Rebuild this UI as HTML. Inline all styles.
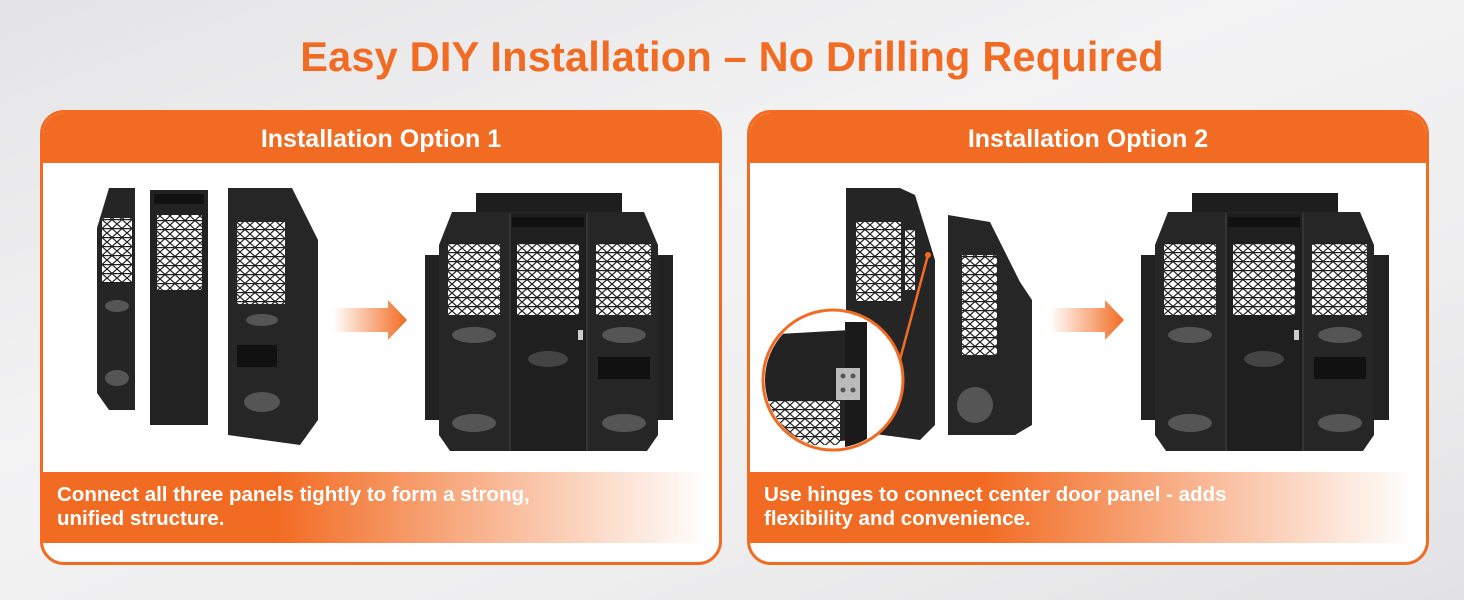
<!DOCTYPE html>
<html><head><meta charset="utf-8"><style>
body{margin:0;width:1464px;height:600px;overflow:hidden;background:linear-gradient(160deg,#e4e4e6 0%,#f3f3f4 40%,#eeeeef 70%,#e2e2e4 100%);font-family:"Liberation Sans",sans-serif;position:relative}
.title{position:absolute;top:33px;left:0;width:1464px;text-align:center;color:#f26b22;font-weight:bold;font-size:41.5px;letter-spacing:0.2px}
.card{position:absolute;top:110px;width:676px;height:449px;border:3px solid #f26b22;border-radius:24px;background:#fff;overflow:hidden}
.hdr{height:50px;background:#f26b22;color:#fff;font-weight:bold;font-size:25px;text-align:center;line-height:52px}
.cap{position:absolute;left:0;top:359px;height:71px;width:665px;background:linear-gradient(90deg,#f26b22 0%,#f26b22 35%,rgba(242,107,34,0.45) 70%,rgba(242,107,34,0) 100%);color:#fff;font-weight:bold;font-size:20.5px;line-height:24px;padding:11px 0 0 14px;box-sizing:border-box;white-space:nowrap}
svg{position:absolute;left:0;top:0}
</style></head><body>
<div class="title">Easy DIY Installation – No Drilling Required</div>
<div class="card" style="left:40px"><div class="hdr">Installation Option 1</div>
<div class="cap">Connect all three panels tightly to form a strong,<br>unified structure.</div></div>
<div class="card" style="left:747px"><div class="hdr">Installation Option 2</div>
<div class="cap">Use hinges to connect center door panel - adds<br>flexibility and convenience.</div></div>
<svg width="1464" height="600" viewBox="0 0 1464 600">
<defs>
<pattern id="m" width="10" height="9" patternUnits="userSpaceOnUse">
<rect width="10" height="9" fill="#fff"/><path d="M0 0L5 4.5L10 0M0 9L5 4.5L10 9" stroke="#1d1d1d" stroke-width="1.2" fill="none"/><rect y="4" width="10" height="1.2" fill="#1d1d1d"/></pattern>
<linearGradient id="ar" x1="0" x2="1"><stop offset="0" stop-color="#f26b22" stop-opacity="0"/><stop offset="1" stop-color="#f26b22"/></linearGradient>
<g id="asm">
<rect x="54" y="8" width="146" height="22" fill="#1e1e1e"/>
<rect x="3" y="70" width="16" height="165" fill="#222"/>
<rect x="234" y="70" width="17" height="165" fill="#222"/>
<polygon points="30,27 222,27 236,60 236,250 225,266 28,266 17,250 17,60" fill="#262626"/>
<rect x="88" y="28" width="77" height="238" fill="#1f1f1f"/>
<rect x="90" y="32" width="72" height="10" fill="#111"/>
<line x1="88" y1="28" x2="88" y2="266" stroke="#444"/><line x1="165" y1="28" x2="165" y2="266" stroke="#444"/>
<rect x="26" y="58" width="52" height="72" fill="url(#m)"/>
<rect x="95" y="58" width="62" height="72" fill="url(#m)"/>
<rect x="174" y="58" width="55" height="72" fill="url(#m)"/>
<ellipse cx="52" cy="150" rx="22" ry="8" fill="#555"/><ellipse cx="202" cy="150" rx="22" ry="8" fill="#555"/>
<ellipse cx="52" cy="238" rx="22" ry="9" fill="#555"/><ellipse cx="202" cy="238" rx="22" ry="9" fill="#555"/>
<ellipse cx="126" cy="174" rx="20" ry="8" fill="#444"/>
<rect x="176" y="172" width="52" height="22" fill="#111"/>
<rect x="156" y="145" width="5" height="10" fill="#ccc"/>
</g>
<g id="pnl1"><polygon points="12,0 38,0 38,222 12,222 0,205 0,40" fill="#252525"/><rect x="5" y="30" width="30" height="65" fill="url(#m)"/><ellipse cx="20" cy="118" rx="12" ry="6" fill="#555"/><ellipse cx="20" cy="190" rx="12" ry="8" fill="#555"/></g>
</defs>
<use href="#pnl1" x="97" y="188"/>
<rect x="150" y="190" width="58" height="235" fill="#222"/><rect x="154" y="194" width="50" height="10" fill="#111"/>
<rect x="157" y="215" width="45" height="75" fill="url(#m)"/>
<polygon points="228,188 292,188 318,240 318,420 300,445 228,435" fill="#262626"/>
<rect x="237" y="222" width="48" height="82" fill="url(#m)"/>
<rect x="237" y="345" width="40" height="22" fill="#111"/>
<ellipse cx="262" cy="320" rx="16" ry="6" fill="#555"/><ellipse cx="262" cy="402" rx="18" ry="10" fill="#555"/>
<polygon points="333,308 388,308 388,300 407,320 388,340 388,332 333,332" fill="url(#ar)"/>
<use href="#asm" x="422" y="185"/>
<polygon points="846,188 900,188 915,195 935,260 935,425 920,440 846,430" fill="#252525"/>
<rect x="856" y="222" width="45" height="80" fill="url(#m)"/>
<rect x="905" y="230" width="10" height="60" fill="url(#m)"/>
<polygon points="948,215 990,222 1020,282 1032,300 1032,425 1015,435 948,435" fill="#262626"/>
<rect x="962" y="255" width="35" height="100" fill="url(#m)"/>
<ellipse cx="975" cy="405" rx="18" ry="18" fill="#555"/>
<line x1="928" y1="255" x2="895" y2="378" stroke="#f26b22" stroke-width="2.5"/>
<circle cx="928" cy="255" r="3" fill="#f26b22"/>
<circle cx="833" cy="380" r="70" fill="#fff" stroke="#f26b22" stroke-width="3"/>
<clipPath id="cc"><circle cx="833" cy="380" r="68"/></clipPath>
<g clip-path="url(#cc)">
<polygon points="760,335 850,330 850,440 760,450" fill="#222"/>
<rect x="760" y="400" width="80" height="45" fill="url(#m)"/>
<rect x="845" y="322" width="22" height="125" fill="#1a1a1a"/>
<rect x="836" y="368" width="24" height="32" fill="#bbb"/>
<circle cx="843" cy="376" r="2.5" fill="#555"/><circle cx="853" cy="376" r="2.5" fill="#555"/>
<circle cx="843" cy="390" r="2.5" fill="#555"/><circle cx="853" cy="390" r="2.5" fill="#555"/>
</g>
<polygon points="1050,308 1105,308 1105,300 1124,320 1105,340 1105,332 1050,332" fill="url(#ar)"/>
<use href="#asm" x="1138" y="185"/>
</svg>
</body></html>
